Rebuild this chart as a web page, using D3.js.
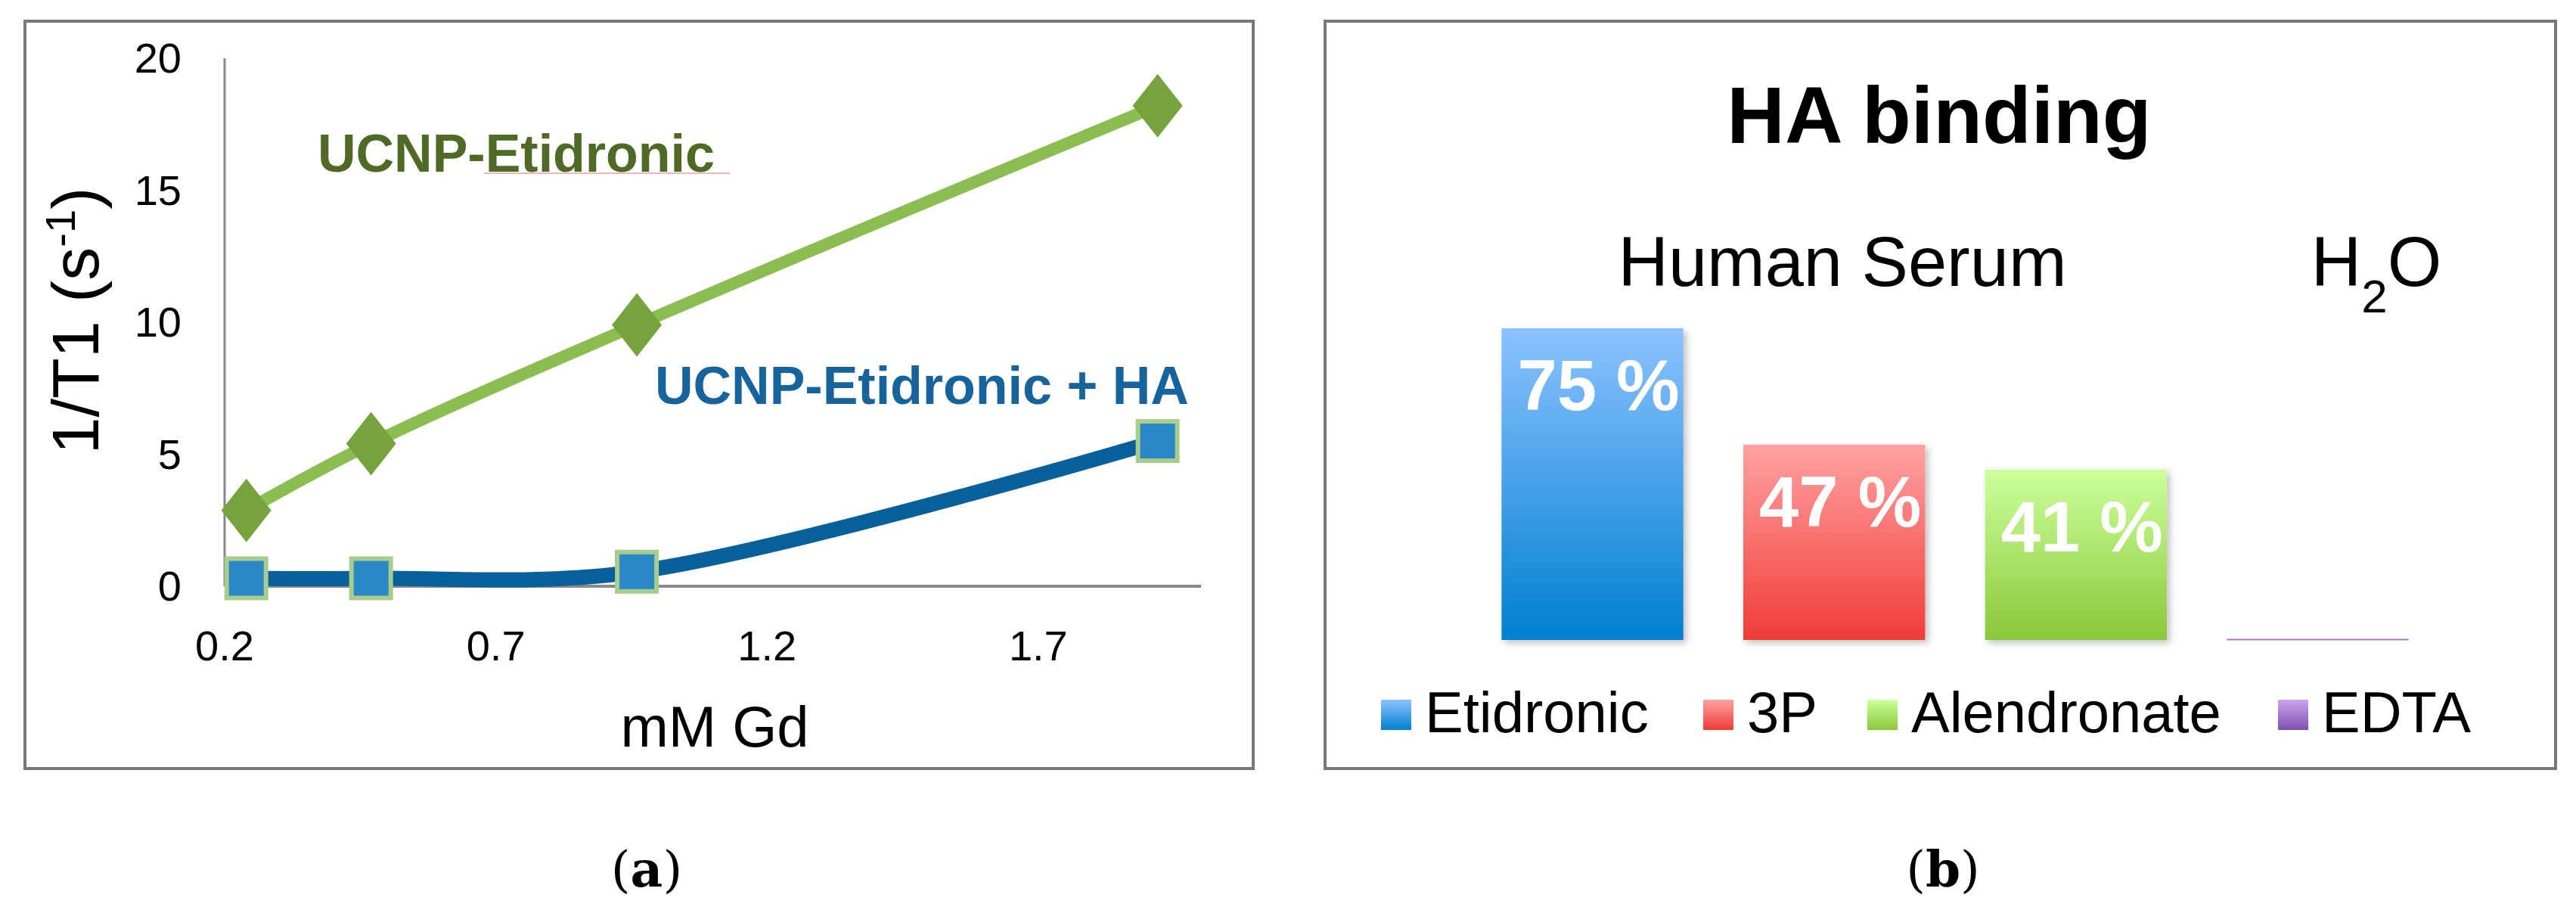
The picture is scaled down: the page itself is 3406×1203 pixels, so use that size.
<!DOCTYPE html>
<html><head><meta charset="utf-8">
<script src="https://cdn.jsdelivr.net/npm/d3@7"></script>
<style>body{margin:0;background:#fff}svg{display:block}</style>
</head><body>
<svg id="c" width="3406" height="1203"></svg>
<script>
const doses = [0.24, 0.47, 0.96, 1.92];
const etidronic = [2.87, 5.4, 9.9, 18.2];
const etidronicHA = [0.3, 0.3, 0.55, 5.5];
const xTicks = [0.2, 0.7, 1.2, 1.7];
const yTicks = [0, 5, 10, 15, 20];
const barCats = ["Etidronic", "3P", "Alendronate", "EDTA"];
const barVals = [75, 47, 41, 0.3];
const barLabels = ["75 %", "47 %", "41 %", ""];

const NARROW = "'Liberation Sans Narrow','Arial Narrow','Liberation Sans',sans-serif";
const svg = d3.select("#c");
const defs = svg.append("defs");

// ---------- Panel a ----------
svg.append("rect").attr("x",33).attr("y",28).attr("width",1624).attr("height",988)
  .attr("fill","none").attr("stroke","#777").attr("stroke-width",4);
const x = d3.scaleLinear().domain([0.2, 2.0]).range([297, 1588]);
const y = d3.scaleLinear().domain([0, 20]).range([775, 77]);
svg.append("line").attr("x1",x(0.2)).attr("x2",x(0.2)).attr("y1",y(0)).attr("y2",y(20)).attr("stroke","#888").attr("stroke-width",3);
svg.append("line").attr("x1",x(0.2)).attr("x2",x(2.0)).attr("y1",y(0)).attr("y2",y(0)).attr("stroke","#888").attr("stroke-width",4);
svg.selectAll(".yt").data(yTicks).join("text").attr("x",240).attr("y",d=>y(d)+19)
  .attr("text-anchor","end").attr("font-family",NARROW).attr("font-size",56).text(d=>d);
svg.selectAll(".xt").data(xTicks).join("text").attr("x",d=>x(d)).attr("y",873)
  .attr("text-anchor","middle").attr("font-family",NARROW).attr("font-size",56).text(d=>d);
svg.append("text").attr("x",945).attr("y",987).attr("text-anchor","middle")
  .attr("font-family",NARROW).attr("font-size",76).text("mM Gd");
const yt = svg.append("text").attr("transform","translate(130,424) rotate(-90)").attr("text-anchor","middle")
  .attr("font-family","'Liberation Sans',Arial,sans-serif").attr("font-size",88);
yt.append("tspan").text("1/T1 (s");
yt.append("tspan").attr("baseline-shift","super").attr("font-size",56).text("-1");
yt.append("tspan").text(")");

const line = d3.line().x((d,i)=>x(doses[i])).y(d=>y(d)).curve(d3.curveCatmullRom.alpha(0.5));
svg.append("path").attr("d",line(etidronic)).attr("fill","none").attr("stroke","#8cbd50").attr("stroke-width",16);
svg.append("path").attr("d",line(etidronicHA)).attr("fill","none").attr("stroke","#07609a").attr("stroke-width",20);
svg.selectAll(".dm").data(etidronic).join("path")
  .attr("transform",(d,i)=>`translate(${x(doses[i])},${y(d)})`)
  .attr("d","M0,-42L33,0L0,42L-33,0Z").attr("fill","#76a33e");
svg.selectAll(".sq").data(etidronicHA).join("rect")
  .attr("x",(d,i)=>x(doses[i])-26).attr("y",d=>y(d)-26).attr("width",52).attr("height",52)
  .attr("fill","#2a87c8").attr("stroke","#a8cc8c").attr("stroke-width",6);
svg.append("text").attr("x",420).attr("y",227).attr("font-family",NARROW).attr("font-weight","bold")
  .attr("font-size",70).attr("fill","#4f6a25").text("UCNP-Etidronic");
svg.append("line").attr("x1",640).attr("x2",965).attr("y1",229).attr("y2",229).attr("stroke","#e8a0a0").attr("stroke-width",1.5);
svg.append("text").attr("x",866).attr("y",534).attr("font-family",NARROW).attr("font-weight","bold")
  .attr("font-size",70).attr("fill","#17649c").text("UCNP-Etidronic + HA");
const la = svg.append("text").attr("x",855).attr("y",1172).attr("text-anchor","middle")
  .attr("font-family","'DejaVu Serif','Liberation Serif',serif").attr("font-size",66);
la.append("tspan").text("(");la.append("tspan").attr("font-weight","bold").text("a");la.append("tspan").text(")");

// ---------- Panel b ----------
svg.append("rect").attr("x",1752).attr("y",28).attr("width",1627).attr("height",988)
  .attr("fill","none").attr("stroke","#777").attr("stroke-width",4);
svg.append("text").attr("x",2564).attr("y",189).attr("text-anchor","middle").attr("font-family",NARROW)
  .attr("font-weight","bold").attr("font-size",106).text("HA binding");
svg.append("text").attr("x",2436).attr("y",378).attr("text-anchor","middle").attr("font-family",NARROW)
  .attr("font-size",92).text("Human Serum");
const h2o = svg.append("text").attr("x",3142).attr("y",378).attr("text-anchor","middle").attr("font-family",NARROW).attr("font-size",92);
h2o.append("tspan").text("H");h2o.append("tspan").attr("baseline-shift","sub").attr("font-size",62).text("2");h2o.append("tspan").text("O");

const grads = [["#8cc2ff","#0080d0"],["#ffa2a2","#f03c36"],["#ceff9c","#8ac83a"],["#cba6ec","#8050b0"]];
grads.forEach((g,i)=>{
  const lg = defs.append("linearGradient").attr("id","g"+i).attr("x1",0).attr("x2",0).attr("y1",0).attr("y2",1);
  lg.append("stop").attr("offset","0%").attr("stop-color",g[0]);
  lg.append("stop").attr("offset","100%").attr("stop-color",g[1]);
});
const f = defs.append("filter").attr("id","sh").attr("x","-10%").attr("y","-10%").attr("width","130%").attr("height","130%");
f.append("feDropShadow").attr("dx",4).attr("dy",4).attr("stdDeviation",5).attr("flood-color","#000").attr("flood-opacity",0.25);

const xb = d3.scaleBand().domain(barCats).range([1979-32, 3191+32]).paddingInner(0.248).paddingOuter(0.12);
const yb = d3.scaleLinear().domain([0, 75]).range([846, 434]);
svg.selectAll(".bar").data(barVals).join("rect")
  .attr("x",(d,i)=>xb(barCats[i])).attr("width",xb.bandwidth())
  .attr("y",d=>yb(d)).attr("height",d=>Math.max(yb(0)-yb(d),2))
  .attr("fill",(d,i)=>"url(#g"+i+")").attr("filter",(d,i)=>i<3?"url(#sh)":null);
svg.selectAll(".bl").data(barVals).join("text")
  .attr("x",(d,i)=>xb(barCats[i])+xb.bandwidth()/2+8).attr("y",d=>yb(d)+108)
  .attr("text-anchor","middle").attr("font-family",NARROW).attr("font-weight","bold")
  .attr("font-size",94).attr("fill","#fff").text((d,i)=>barLabels[i]);

const legX = [1826, 2252, 2469, 3012];
barCats.forEach((c,i)=>{
  svg.append("rect").attr("x",legX[i]).attr("y",925).attr("width",40).attr("height",40).attr("fill","url(#g"+i+")");
  svg.append("text").attr("x",legX[i]+58).attr("y",968).attr("font-family",NARROW).attr("font-size",76).text(c);
});
const lb = svg.append("text").attr("x",2569).attr("y",1172).attr("text-anchor","middle")
  .attr("font-family","'DejaVu Serif','Liberation Serif',serif").attr("font-size",66);
lb.append("tspan").text("(");lb.append("tspan").attr("font-weight","bold").text("b");lb.append("tspan").text(")");
</script>
</body></html>
